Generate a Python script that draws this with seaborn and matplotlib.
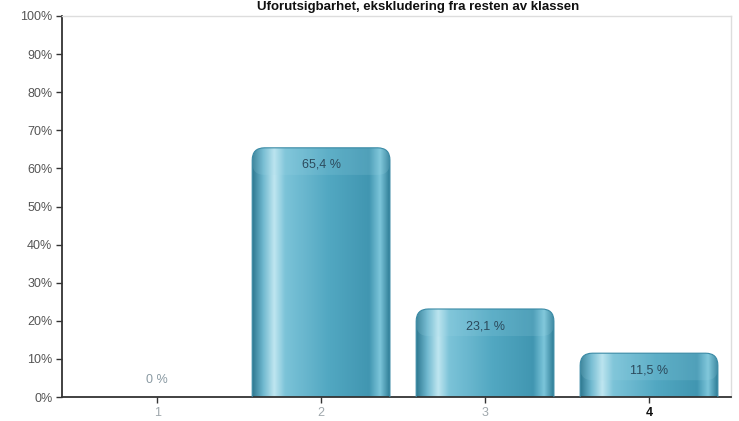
import numpy as np
import pandas as pd
import matplotlib
matplotlib.use("Agg")
import matplotlib.pyplot as plt
import seaborn as sns
from matplotlib.patches import FancyBboxPatch
from matplotlib.colors import LinearSegmentedColormap

categories = ["1", "2", "3", "4"]
values = [0.0, 65.4, 23.1, 11.5]
labels = ["0 %", "65,4 %", "23,1 %", "11,5 %"]
yticks = [0, 10, 20, 30, 40, 50, 60, 70, 80, 90, 100]
title = "Uforutsigbarhet, ekskludering fra resten av klassen"

sns.set_theme(style="white")
plt.rcParams['font.family'] = ['Liberation Sans', 'DejaVu Sans']

fig = plt.figure(figsize=(7.39, 4.21), dpi=100)
ax = fig.add_axes([62/739, 24/421, 669/739, 381/421])

df = pd.DataFrame({"cat": categories, "val": values})
sns.barplot(data=df, x="cat", y="val", ax=ax, width=0.84, color="#5aaec6", saturation=1)

ax.set_ylim(0, 100)
ax.set_xlim(-0.58, 3.5)

cmap = LinearSegmentedColormap.from_list("cyl", [
    (0.0, "#2d7890"), (0.08, "#6fb8cf"), (0.16, "#bfe6f0"), (0.24, "#7cc3d8"),
    (0.55, "#52a8c2"), (0.85, "#4196b1"), (0.93, "#7cc5da"), (1.0, "#2f7e97")])
grad = np.linspace(0, 1, 256).reshape(1, -1)

rad_x = 0.075
aspect = (381 / 100) ** -1 * (669 / 4.08)  # data-y per data-x for equal pixels
for p, v in zip(list(ax.patches), values):
    x0, w, h = p.get_x(), p.get_width(), p.get_height()
    p.set_visible(False)
    if h <= 0:
        continue
    bottom = -rad_x * aspect
    box = FancyBboxPatch((x0, bottom), w, h - bottom,
                         boxstyle=f"round,pad=0,rounding_size={rad_x}",
                         mutation_aspect=aspect, facecolor="none",
                         edgecolor="#3a8aa5", linewidth=0.8, zorder=3)
    ax.add_patch(box)
    im = ax.imshow(grad, cmap=cmap, aspect="auto", extent=(x0, x0 + w, bottom, h),
                   zorder=2, interpolation="bilinear")
    im.set_clip_path(box)
    cap = FancyBboxPatch((x0, h - 2.2 * rad_x * aspect), w, 2.2 * rad_x * aspect,
                         boxstyle=f"round,pad=0,rounding_size={rad_x}",
                         mutation_aspect=aspect, facecolor="#a8dcea", alpha=0.15,
                         edgecolor="none", zorder=2.5)
    ax.add_patch(cap)

for i, (v, lab) in enumerate(zip(values, labels)):
    if v > 0:
        ax.text(i, v - 4.5, lab, ha="center", va="center", fontsize=9,
                color="#2c4a5c", zorder=5)
    else:
        ax.text(i, 4.5, lab, ha="center", va="center", fontsize=9,
                color="#8a9aa3", zorder=5)

ax.set_yticks(yticks)
ax.set_yticklabels([f"{t}%" for t in yticks], fontsize=9, color="#555555")
ax.set_xticks(range(len(categories)))
ax.set_xticklabels(categories, fontsize=9, color="#a0a8ad")
ax.get_xticklabels()[3].set_color("#111111")
ax.get_xticklabels()[3].set_fontweight("bold")
ax.set_xlabel("")
ax.set_ylabel("")
ax.tick_params(axis="both", which="both", length=4, width=1, color="#333333",
               left=True, bottom=True, direction="out", pad=3)

for s in ["left", "bottom"]:
    ax.spines[s].set_color("#333333")
    ax.spines[s].set_linewidth(1.3)
for s in ["top", "right"]:
    ax.spines[s].set_color("#dddddd")
    ax.spines[s].set_linewidth(1.0)

fig.text(418/739, 0.998, title, ha="center", va="top", fontsize=9.5,
         fontweight="bold", color="#111111")

fig.savefig("out.png", dpi=100)
